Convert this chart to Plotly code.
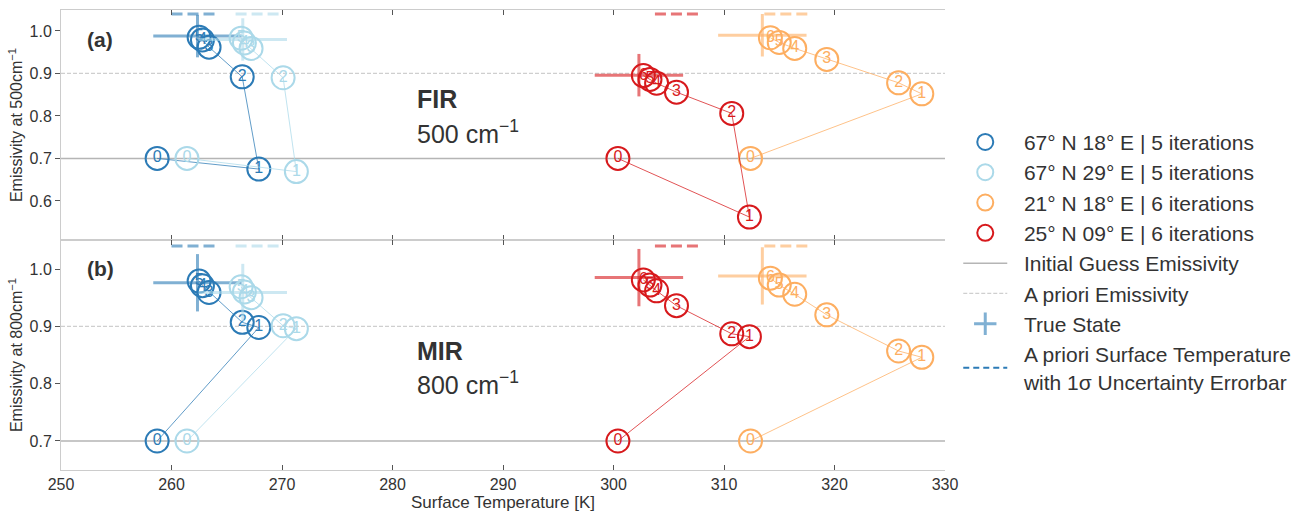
import plotly.graph_objects as go

# ---------------- data ----------------
LOCATIONS = ["67° N 18° E", "67° N 29° E", "21° N 18° E", "25° N 09° E"]
N_ITER = [5, 5, 6, 6]
COLORS = ["#2c7bb6", "#abd9e9", "#fdae61", "#d7191c"]

# surface temperature per iteration (0 = initial guess)
TS_67N18E = [258.7, 267.9, 266.4, 263.4, 262.8, 262.5]
TS_67N29E = [261.4, 271.3, 270.1, 267.2, 266.6, 266.3]
TS_21N18E = [312.4, 327.9, 325.8, 319.3, 316.4, 315.0, 314.2]
TS_25N09E = [300.4, 312.3, 310.7, 305.7, 303.9, 303.3, 302.7]

# emissivity at 500 cm-1 per iteration
E500_67N18E = [0.700, 0.675, 0.892, 0.962, 0.979, 0.985]
E500_67N29E = [0.700, 0.669, 0.890, 0.959, 0.972, 0.983]
E500_21N18E = [0.700, 0.852, 0.878, 0.933, 0.959, 0.973, 0.984]
E500_25N09E = [0.700, 0.562, 0.806, 0.856, 0.877, 0.886, 0.895]

# emissivity at 800 cm-1 per iteration
E800_67N18E = [0.700, 0.898, 0.907, 0.959, 0.971, 0.979]
E800_67N29E = [0.700, 0.896, 0.901, 0.950, 0.960, 0.969]
E800_21N18E = [0.700, 0.846, 0.857, 0.920, 0.956, 0.972, 0.984]
E800_25N09E = [0.700, 0.882, 0.887, 0.936, 0.962, 0.972, 0.981]

# true state
TRUE_TS = [262.35, 266.45, 313.47, 302.3]
TRUE_E500 = [0.988, 0.980, 0.990, 0.896]
TRUE_E800 = [0.976, 0.959, 0.988, 0.985]
TRUE_TS_ERR = 4.0
TRUE_E_ERR = 0.05

# a priori surface temperature and 1 sigma
APRIORI_TS = [262.0, 267.8, 315.65, 305.75]
APRIORI_TS_SIGMA = 2.0
APRIORI_TS_LEVEL = 1.04

INITIAL_EMIS = 0.7
APRIORI_EMIS = 0.9

X_RANGE = [250, 330]
X_TICKS = [250, 260, 270, 280, 290, 300, 310, 320, 330]
Y_RANGE_A = [0.508, 1.0494]
Y_TICKS_A = [0.6, 0.7, 0.8, 0.9, 1.0]
Y_RANGE_B = [0.6494, 1.0506]
Y_TICKS_B = [0.7, 0.8, 0.9, 1.0]

TS_ALL = [TS_67N18E, TS_67N29E, TS_21N18E, TS_25N09E]
E500_ALL = [E500_67N18E, E500_67N29E, E500_21N18E, E500_25N09E]
E800_ALL = [E800_67N18E, E800_67N29E, E800_21N18E, E800_25N09E]

FONT = "Liberation Sans, Arial, sans-serif"
TEXT_COLOR = "#333333"
PAD = "\u00a0\u00a0"  # small gap between legend glyph and label


def rgba(hex_color, a):
    h = hex_color.lstrip("#")
    r, g, b = int(h[0:2], 16), int(h[2:4], 16), int(h[4:6], 16)
    return f"rgba({r},{g},{b},{a})"


fig = go.Figure()

panels = [("x", "y", E500_ALL, TRUE_E500, True), ("x2", "y2", E800_ALL, TRUE_E800, False)]

for xa, ya, E_ALL, TRUE_E, first in panels:
    # reference horizontal lines
    fig.add_trace(go.Scatter(
        x=X_RANGE, y=[INITIAL_EMIS, INITIAL_EMIS], mode="lines", xaxis=xa, yaxis=ya,
        line=dict(color="#b5b5b5", width=1.5), name=PAD + "Initial Guess Emissivity",
        showlegend=first, legendrank=5, hoverinfo="skip"))
    fig.add_trace(go.Scatter(
        x=X_RANGE, y=[APRIORI_EMIS, APRIORI_EMIS], mode="lines", xaxis=xa, yaxis=ya,
        line=dict(color="#cfcfcf", width=1.2, dash="4px,2px"), name=PAD + "A priori Emissivity",
        showlegend=first, legendrank=6, hoverinfo="skip"))

    for i, loc in enumerate(LOCATIONS):
        c = COLORS[i]
        ts = TS_ALL[i]
        em = E_ALL[i]
        # true state cross
        fig.add_trace(go.Scatter(
            x=[TRUE_TS[i]], y=[TRUE_E[i]], mode="markers", xaxis=xa, yaxis=ya,
            marker=dict(size=1, color="rgba(0,0,0,0)"),
            error_x=dict(type="data", array=[TRUE_TS_ERR], thickness=3, width=0, color=rgba(c, 0.6)),
            error_y=dict(type="data", array=[TRUE_E_ERR], thickness=3, width=0, color=rgba(c, 0.6)),
            showlegend=False, hoverinfo="skip"))
        # a priori surface temperature with 1 sigma
        fig.add_trace(go.Scatter(
            x=[APRIORI_TS[i] - APRIORI_TS_SIGMA, APRIORI_TS[i] + APRIORI_TS_SIGMA],
            y=[APRIORI_TS_LEVEL, APRIORI_TS_LEVEL], mode="lines", xaxis=xa, yaxis=ya,
            line=dict(color=rgba(c, 0.6), width=3, dash="11px,5px"),
            showlegend=False, hoverinfo="skip"))
        # iteration path
        fig.add_trace(go.Scatter(
            x=ts, y=em, mode="lines", xaxis=xa, yaxis=ya,
            line=dict(color=rgba(c, 0.75), width=1), showlegend=False, hoverinfo="skip"))
        fig.add_trace(go.Scatter(
            x=ts, y=em, mode="markers+text", xaxis=xa, yaxis=ya,
            text=[str(k) for k in range(len(ts))], textposition="middle center",
            textfont=dict(color=c, size=16, family=FONT),
            marker=dict(symbol="circle-open", size=23, color=c, line=dict(width=2, color=c)),
            name=PAD + f"{loc} | {N_ITER[i]} iterations", showlegend=first, legendrank=i + 1))

# legend-only entries
fig.add_trace(go.Scatter(
    x=[None], y=[None], mode="markers", xaxis="x", yaxis="y", name=PAD + "True State",
    marker=dict(symbol="cross-thin-open", size=16, color=rgba(COLORS[0], 0.6),
                line=dict(width=3, color=rgba(COLORS[0], 0.6))),
    legendrank=7))
fig.add_trace(go.Scatter(
    x=[None], y=[None], mode="lines", xaxis="x", yaxis="y",
    name=PAD + "A priori Surface Temperature<br>" + PAD + "with 1σ Uncertainty Errorbar",
    line=dict(color=COLORS[0], width=2, dash="6px,4px"), legendrank=8))

FRAME = "#cccccc"
TICKC = "#555555"
common_x = dict(range=X_RANGE, tickvals=X_TICKS, showgrid=False, zeroline=False,
                showline=True, linecolor=FRAME, linewidth=1, mirror="ticks", automargin=False,
                ticks="inside", ticklen=5, tickcolor=TICKC, tickwidth=1,
                tickfont=dict(size=16, color=TEXT_COLOR, family=FONT))
common_y = dict(showgrid=False, zeroline=False, showline=True, linecolor=FRAME, linewidth=1,
                ticks="outside", ticklen=5, tickcolor=TICKC, tickwidth=1, tickformat=".1f",
                automargin=False, tickfont=dict(size=16, color=TEXT_COLOR, family=FONT))
right_y = dict(showgrid=False, zeroline=False, showline=False, ticks="inside", ticklen=5,
               tickcolor=TICKC, tickwidth=1, showticklabels=False, side="right", automargin=False)

fig.update_layout(
    width=1307, height=514,
    margin=dict(l=61, r=362, t=10, b=44),
    paper_bgcolor="white", plot_bgcolor="white",
    font=dict(family=FONT, color=TEXT_COLOR),
    xaxis=dict(domain=[0, 1], anchor="y", showticklabels=False, **common_x),
    yaxis=dict(domain=[0.5, 1], anchor="x", range=Y_RANGE_A, tickvals=Y_TICKS_A,
               title=dict(text="Emissivity at 500cm<sup>−1</sup>", font=dict(size=16, color=TEXT_COLOR),
                          standoff=2),
               **common_y),
    xaxis2=dict(domain=[0, 1], anchor="y2",
                title=dict(text="Surface Temperature [K]", font=dict(size=17, color=TEXT_COLOR), standoff=2),
                **common_x),
    yaxis2=dict(domain=[0, 0.5], anchor="x2", range=Y_RANGE_B, tickvals=Y_TICKS_B,
                title=dict(text="Emissivity at 800cm<sup>−1</sup>", font=dict(size=16, color=TEXT_COLOR),
                           standoff=2),
                **common_y),
    yaxis3=dict(overlaying="y", anchor="x", range=Y_RANGE_A, tickvals=Y_TICKS_A, **right_y),
    yaxis4=dict(overlaying="y2", anchor="x2", range=Y_RANGE_B, tickvals=Y_TICKS_B, **right_y),
    legend=dict(x=1.015, xanchor="left", y=0.757, yanchor="top", bgcolor="rgba(0,0,0,0)",
                font=dict(size=21, color=TEXT_COLOR, family=FONT), itemwidth=44,
                traceorder="normal"),
    showlegend=True,
)

ann = [
    dict(text="<b>(a)</b>", xref="x domain", yref="y domain", x=0.027, y=0.87, size=21),
    dict(text="<b>(b)</b>", xref="x2 domain", yref="y2 domain", x=0.027, y=0.878, size=21),
    dict(text="<b>FIR</b>", xref="x domain", yref="y domain", x=0.4, y=0.613, size=25),
    dict(text="500 cm<sup>−1</sup>", xref="x domain", yref="y domain", x=0.4, y=0.471, size=25),
    dict(text="<b>MIR</b>", xref="x2 domain", yref="y2 domain", x=0.4, y=0.519, size=25),
    dict(text="800 cm<sup>−1</sup>", xref="x2 domain", yref="y2 domain", x=0.4, y=0.377, size=25),
]
for a in ann:
    fig.add_annotation(text=a["text"], xref=a["xref"], yref=a["yref"], x=a["x"], y=a["y"],
                       xanchor="left", yanchor="middle", showarrow=False,
                       font=dict(size=a["size"], color=TEXT_COLOR, family=FONT))

fig.write_html("out.html")
